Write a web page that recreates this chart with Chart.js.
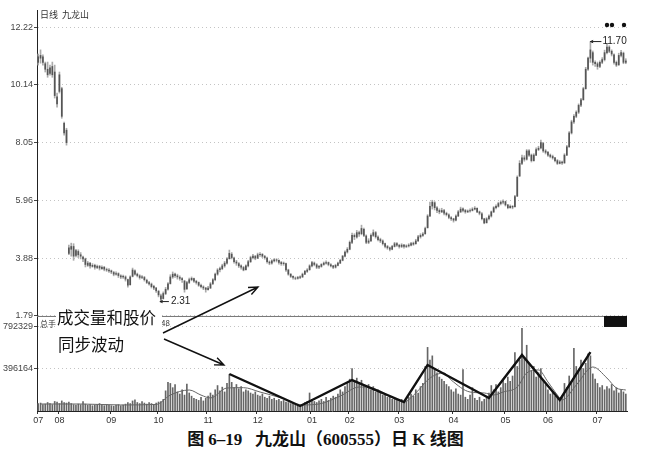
<!DOCTYPE html>
<html>
<head>
<meta charset="utf-8">
<script src="https://cdn.jsdelivr.net/npm/chart.js@4.4.0/dist/chart.umd.min.js"></script>
<style>
  html, body { margin: 0; padding: 0; background: #fff; }
  #wrap { position: relative; width: 651px; height: 456px; overflow: hidden; }
  #box { position: absolute; left: 0; top: 0; width: 651px; height: 428px; }
  #caption { position: absolute; left: 0; top: 430px; width: 651px; text-align: center;
    font: bold 17px "Liberation Serif", "Noto Sans CJK SC", serif; color: #111; line-height: 20px; }
</style>
</head>
<body>
<div id="wrap">
  <div id="box"><canvas id="kline"></canvas></div>
  <div id="caption">图 6–19&nbsp;&nbsp;&nbsp;九龙山（600555）日 K 线图</div>
</div>
<script>
// daily bars, July to July (index 13 on is after the share split)
var openP = [10.95,11.10,11.15,10.90,10.70,10.55,10.80,10.60,9.70,9.90,10.00,8.75,8.50,
  4.05,4.20,4.30,3.98,4.12,4.00,3.92,3.85,3.62,3.70,
  3.58,3.62,3.54,3.58,3.50,3.55,3.47,3.45,3.42,3.36,
  3.30,3.32,3.24,3.20,3.20,3.10,2.92,3.22,3.42,3.30,
  3.24,3.18,3.18,3.08,3.00,2.94,2.86,2.80,2.68,2.52,
  2.42,2.60,2.76,2.96,3.20,3.30,3.24,3.18,3.14,3.05,
  2.78,3.00,3.10,3.14,3.04,3.00,2.90,2.84,2.80,2.74,
  2.80,2.96,3.10,3.30,3.46,3.50,3.60,3.70,3.86,4.02,
  3.88,3.74,3.68,3.60,3.54,3.46,3.60,3.75,3.90,3.94,
  3.88,4.00,4.02,3.94,3.88,3.74,3.70,3.78,3.82,3.80,
  3.72,3.68,3.68,3.45,3.30,3.22,3.16,3.15,3.18,3.20,
  3.30,3.40,3.46,3.60,3.70,3.64,3.55,3.58,3.65,3.70,
  3.72,3.64,3.60,3.55,3.62,3.70,3.80,3.95,4.10,4.20,
  4.45,4.70,4.64,4.80,4.76,4.92,4.68,4.45,4.50,4.70,
  4.80,4.64,4.55,4.50,4.40,4.30,4.25,4.20,4.30,4.40,
  4.34,4.30,4.35,4.30,4.32,4.35,4.40,4.40,4.50,4.65,
  4.70,4.76,4.98,5.40,5.76,5.88,5.70,5.60,5.55,5.60,
  5.50,5.44,5.34,5.30,5.25,5.40,5.55,5.66,5.60,5.55,
  5.58,5.60,5.65,5.68,5.55,5.48,5.30,5.16,5.30,5.40,
  5.55,5.70,5.75,5.85,5.90,5.92,5.80,5.70,5.75,5.74,
  6.12,6.85,7.30,7.50,7.45,7.75,7.60,7.40,7.60,7.80,
  7.86,8.02,7.75,7.70,7.60,7.55,7.50,7.40,7.30,7.35,
  7.32,7.60,7.90,8.40,8.80,9.00,9.15,9.40,9.60,10.00,
  10.70,11.10,11.30,10.95,10.90,10.80,10.95,11.05,11.30,11.50,
  11.35,11.22,10.95,10.86,11.20,11.28,10.95];
var highP = [11.25,11.40,11.22,10.96,10.96,10.85,10.96,10.85,9.84,10.60,10.05,8.79,8.57,
  4.35,4.42,4.40,4.20,4.18,4.08,3.95,3.88,3.76,3.72,
  3.68,3.66,3.63,3.62,3.60,3.58,3.52,3.50,3.45,3.40,
  3.38,3.35,3.28,3.27,3.24,3.12,3.24,3.52,3.46,3.34,
  3.28,3.25,3.22,3.12,3.04,2.98,2.90,2.82,2.72,2.58,
  2.66,2.82,3.00,3.28,3.38,3.34,3.30,3.24,3.18,3.08,
  3.04,3.16,3.20,3.16,3.08,3.02,2.94,2.88,2.82,2.86,
  3.00,3.14,3.34,3.50,3.56,3.66,3.76,3.90,4.17,4.08,
  3.92,3.80,3.72,3.64,3.58,3.64,3.80,3.95,4.02,3.98,
  4.06,4.08,4.04,3.98,3.92,3.78,3.82,3.86,3.86,3.82,
  3.76,3.74,3.70,3.48,3.32,3.24,3.20,3.22,3.24,3.34,
  3.44,3.50,3.64,3.76,3.74,3.68,3.62,3.68,3.74,3.78,
  3.74,3.68,3.62,3.66,3.74,3.84,3.98,4.14,4.26,4.50,
  4.78,4.76,4.88,4.86,5.07,4.96,4.72,4.58,4.76,4.90,
  4.84,4.68,4.60,4.54,4.42,4.34,4.28,4.34,4.45,4.44,
  4.38,4.40,4.38,4.36,4.40,4.45,4.46,4.56,4.70,4.76,
  4.80,5.00,5.45,5.90,5.97,5.92,5.74,5.66,5.68,5.64,
  5.54,5.48,5.38,5.32,5.44,5.60,5.72,5.70,5.64,5.62,
  5.66,5.70,5.74,5.70,5.58,5.52,5.32,5.34,5.44,5.58,
  5.74,5.80,5.90,5.95,5.98,5.94,5.82,5.80,5.78,6.15,
  6.85,7.40,7.60,7.58,7.80,7.80,7.64,7.65,7.86,7.92,
  8.14,8.06,7.80,7.74,7.64,7.60,7.52,7.44,7.40,7.38,
  7.65,7.95,8.45,8.86,9.06,9.20,9.45,9.65,10.05,10.77,
  11.14,11.70,11.36,11.00,10.96,11.00,11.12,11.39,11.64,11.55,
  11.40,11.26,11.00,11.28,11.38,11.32,11.08];
var lowP = [10.85,10.92,10.85,10.60,10.41,10.49,10.41,9.66,9.33,9.84,8.93,8.32,7.96,
  4.00,3.95,3.80,3.92,3.90,3.85,3.75,3.56,3.58,3.52,
  3.55,3.48,3.50,3.45,3.47,3.42,3.40,3.36,3.32,3.24,
  3.26,3.18,3.14,3.15,3.05,2.83,2.90,3.20,3.26,3.20,
  3.12,3.14,3.05,2.96,2.90,2.80,2.74,2.64,2.48,2.31,
  2.40,2.56,2.72,2.94,3.15,3.18,3.12,3.08,3.00,2.65,
  2.74,2.96,3.06,3.00,2.94,2.86,2.80,2.74,2.65,2.72,
  2.78,2.92,3.06,3.26,3.38,3.46,3.55,3.66,3.84,3.85,
  3.70,3.62,3.54,3.48,3.42,3.44,3.56,3.72,3.85,3.82,
  3.86,3.94,3.90,3.84,3.70,3.64,3.66,3.74,3.74,3.66,
  3.62,3.62,3.40,3.26,3.18,3.12,3.10,3.12,3.14,3.18,
  3.28,3.36,3.44,3.56,3.60,3.50,3.50,3.55,3.62,3.66,
  3.60,3.56,3.50,3.52,3.60,3.68,3.78,3.92,4.06,4.18,
  4.40,4.55,4.60,4.66,4.72,4.65,4.40,4.40,4.48,4.66,
  4.60,4.50,4.44,4.35,4.25,4.20,4.14,4.18,4.28,4.30,
  4.24,4.26,4.24,4.26,4.28,4.32,4.34,4.38,4.48,4.60,
  4.66,4.74,4.96,5.38,5.65,5.62,5.52,5.48,5.52,5.44,
  5.40,5.30,5.24,5.18,5.22,5.38,5.52,5.55,5.50,5.52,
  5.54,5.58,5.62,5.52,5.44,5.26,5.12,5.14,5.26,5.36,
  5.52,5.66,5.72,5.80,5.84,5.76,5.66,5.68,5.66,5.72,
  6.10,6.82,7.25,7.38,7.42,7.55,7.35,7.38,7.58,7.76,
  7.82,7.70,7.64,7.55,7.50,7.45,7.35,7.26,7.28,7.26,
  7.30,7.58,7.88,8.36,8.74,8.95,9.10,9.35,9.58,9.98,
  10.66,10.95,10.85,10.80,10.70,10.76,10.90,11.00,11.25,11.30,
  11.18,10.88,10.80,10.84,11.15,10.90,10.90];
var closeP = [11.15,11.20,10.95,10.70,10.50,10.75,10.50,9.75,9.45,10.50,9.00,8.40,8.05,
  4.25,4.30,3.95,4.15,4.00,3.95,3.85,3.65,3.70,3.60,
  3.62,3.55,3.58,3.52,3.55,3.48,3.45,3.42,3.38,3.30,
  3.32,3.25,3.20,3.22,3.12,2.90,3.20,3.45,3.30,3.25,
  3.18,3.20,3.10,3.00,2.95,2.85,2.80,2.70,2.55,2.40,
  2.60,2.75,2.95,3.20,3.30,3.25,3.20,3.15,3.10,2.75,
  3.00,3.10,3.15,3.05,3.00,2.90,2.85,2.80,2.75,2.80,
  2.95,3.10,3.30,3.45,3.50,3.60,3.70,3.85,4.05,3.90,
  3.75,3.70,3.60,3.55,3.45,3.60,3.75,3.90,3.95,3.88,
  4.00,4.02,3.95,3.90,3.75,3.70,3.78,3.82,3.80,3.72,
  3.68,3.70,3.45,3.30,3.22,3.18,3.15,3.18,3.20,3.30,
  3.40,3.45,3.60,3.72,3.65,3.55,3.58,3.65,3.70,3.72,
  3.65,3.60,3.55,3.62,3.70,3.80,3.95,4.10,4.20,4.45,
  4.70,4.65,4.80,4.75,4.95,4.70,4.45,4.50,4.70,4.80,
  4.65,4.55,4.50,4.40,4.30,4.25,4.20,4.30,4.40,4.35,
  4.30,4.35,4.30,4.32,4.35,4.40,4.40,4.50,4.65,4.70,
  4.75,4.95,5.40,5.75,5.90,5.70,5.60,5.55,5.60,5.50,
  5.45,5.35,5.30,5.25,5.40,5.55,5.65,5.60,5.55,5.58,
  5.60,5.65,5.68,5.55,5.50,5.30,5.15,5.30,5.40,5.55,
  5.70,5.75,5.85,5.90,5.92,5.80,5.70,5.75,5.72,6.10,
  6.80,7.30,7.50,7.45,7.75,7.60,7.40,7.60,7.80,7.85,
  8.05,7.75,7.70,7.60,7.55,7.50,7.40,7.30,7.35,7.32,
  7.60,7.90,8.40,8.80,9.00,9.15,9.40,9.60,10.00,10.70,
  11.10,11.40,10.95,10.90,10.80,10.95,11.05,11.30,11.50,11.35,
  11.25,10.95,10.85,11.20,11.30,10.95,11.00];
var volume = [70000,75000,60000,65000,80000,70000,60000,90000,85000,70000,95000,80000,75000,
  85000,70000,60000,55000,65000,60000,90000,65000,55000,60000,
  50000,55000,60000,70000,55000,50000,60000,55000,50000,45000,
  55000,60000,50000,55000,65000,80000,70000,95000,105000,80000,
  70000,90000,75000,65000,80000,70000,60000,75000,85000,90000,
  110000,190000,270000,260000,220000,250000,180000,160000,200000,150000,
  255000,170000,140000,120000,110000,100000,130000,95000,120000,140000,
  170000,150000,200000,240000,190000,225000,180000,260000,345000,270000,
  220000,250000,210000,230000,180000,200000,190000,170000,160000,180000,
  150000,140000,160000,130000,120000,140000,110000,120000,100000,110000,
  90000,100000,85000,80000,70000,75000,60000,65000,55000,60000,
  80000,90000,170000,110000,90000,80000,95000,110000,90000,130000,
  100000,120000,140000,130000,160000,200000,180000,230000,260000,300000,
  400000,280000,310000,260000,290000,240000,220000,250000,200000,230000,
  180000,200000,170000,150000,160000,130000,140000,110000,120000,100000,
  90000,110000,80000,95000,130000,160000,140000,200000,170000,230000,
  260000,420000,600000,480000,520000,400000,360000,320000,300000,280000,
  250000,230000,200000,180000,210000,160000,150000,390000,130000,110000,
  150000,220000,120000,100000,130000,90000,110000,140000,170000,240000,
  200000,250000,180000,220000,300000,260000,320000,280000,330000,550000,
  420000,480000,780000,500000,620000,450000,380000,420000,320000,360000,
  400000,280000,250000,200000,160000,180000,140000,120000,100000,130000,
  260000,220000,330000,280000,590000,420000,380000,480000,400000,450000,
  540000,520000,350000,300000,260000,220000,240000,200000,230000,210000,
  250000,190000,220000,170000,200000,180000,160000];

// thin volume average at a few days
var maIdx = [1,18,35,50,56,64,69,73,80,87,94,103,111,119,128,136,142,152,155,160,166,172,175,183,189,193,197,203,207,212,216,220,222,228,235,241,245,249];
var maVol = [66000,66000,57000,62000,150000,198000,150000,123000,217000,220000,179000,123000,57000,66000,141000,226000,215000,104000,85000,170000,311000,358000,292000,179000,170000,151000,179000,226000,358000,387000,274000,151000,104000,245000,415000,311000,217000,198000];
// thick hand drawn swing line over the volume
var zigIdx = [81,111,133,155,165,191,205,221,234];
var zigVol = [349000,47000,292000,85000,434000,123000,528000,104000,556000];

var monthIdx = [0,9,31,51,72,93,116,132,153,176,198,216,237];
var monthLbl = ["07","08","09","10","11","12","01","02","03","04","05","06","07"];
var priceTicks = [1.79, 3.88, 5.96, 8.05, 10.14, 12.22];
var volTicks = [396164, 792329];

var days = closeP.map(function (c, i) { return String(i); });
var wicks = lowP.map(function (l, i) { return [l, highP[i]]; });
var bodies = openP.map(function (o, i) {
  var c = closeP[i];
  return o === c ? [o - 0.02, o + 0.02] : [Math.min(o, c), Math.max(o, c)];
});
var maPts = maIdx.map(function (d, i) { return {x: String(d), y: maVol[i]}; });
var zigPts = zigIdx.map(function (d, i) { return {x: String(d), y: zigVol[i]}; });

function arrow(ctx, x1, y1, x2, y2, len) {
  var a = Math.atan2(y2 - y1, x2 - x1);
  ctx.beginPath();
  ctx.moveTo(x1, y1); ctx.lineTo(x2, y2);
  ctx.moveTo(x2 - len * Math.cos(a - 0.4), y2 - len * Math.sin(a - 0.4));
  ctx.lineTo(x2, y2);
  ctx.lineTo(x2 - len * Math.cos(a + 0.4), y2 - len * Math.sin(a + 0.4));
  ctx.stroke();
}

var deco = {
  id: 'deco',
  afterDraw: function (chart) {
    var ctx = chart.ctx, xs = chart.scales.x, ys = chart.scales.y, vs = chart.scales.y2;
    var a = chart.chartArea;
    ctx.save();
    // line between price and volume panel
    ctx.strokeStyle = '#777'; ctx.lineWidth = 1;
    ctx.beginPath(); ctx.moveTo(a.left, vs.top + 0.5); ctx.lineTo(a.right, vs.top + 0.5); ctx.stroke();
    ctx.fillStyle = '#111';
    ctx.fillRect(a.right - 23, vs.top, 23, 11);

    ctx.fillStyle = '#333'; ctx.textBaseline = 'middle'; ctx.textAlign = 'left';
    ctx.font = '9px "Noto Sans CJK SC"';
    ctx.fillText('日线  九龙山', a.left + 3, 15);
    ctx.font = '8px "Noto Sans CJK SC"';
    ctx.fillText('总手', a.left + 3, vs.top + 8);
    ctx.fillText('48', 161, vs.top + 7);

    // low and high notes
    ctx.strokeStyle = '#222'; ctx.lineWidth = 1;
    ctx.font = '10px "Liberation Sans"'; ctx.fillStyle = '#222';
    var lx = xs.getPixelForValue(52), ly = ys.getPixelForValue(2.31);
    arrow(ctx, lx + 8, ly, lx - 1, ly, 3);
    ctx.fillText('2.31', lx + 10, ly);
    var hx = xs.getPixelForValue(234), hy = ys.getPixelForValue(11.70);
    arrow(ctx, hx + 11, hy, hx, hy, 3);
    ctx.fillText('11.70', hx + 12, hy);
    ctx.fillStyle = '#111';
    [607, 612, 624].forEach(function (px) {
      ctx.beginPath(); ctx.arc(px, 25, 2.2, 0, Math.PI * 2); ctx.fill();
    });

    // callout
    ctx.fillStyle = '#fff';
    ctx.fillRect(56, 308, 106, 20);
    ctx.fillStyle = '#111';
    ctx.font = '16.5px "Noto Sans CJK SC"';
    ctx.fillText('成交量和股价', 57, 318);
    ctx.fillText('同步波动', 58, 345);
    ctx.strokeStyle = '#111'; ctx.lineWidth = 1.4;
    arrow(ctx, 163, 333, 258, 287, 10);
    arrow(ctx, 164, 339, 224, 365, 10);
    ctx.restore();
  }
};

var tickFont = {family: 'Liberation Sans', size: 9};

new Chart(document.getElementById('kline'), {
  type: 'bar',
  data: {
    labels: days,
    datasets: [
      {type: 'line', data: zigPts, yAxisID: 'y2', borderColor: '#111', borderWidth: 2.4,
        pointRadius: 0, tension: 0, order: 0},
      {type: 'line', data: maPts, yAxisID: 'y2', borderColor: '#666', borderWidth: 1,
        pointRadius: 0, tension: 0.4, cubicInterpolationMode: 'monotone', order: 1},
      {data: bodies, yAxisID: 'y', backgroundColor: '#555', barThickness: 1, grouped: false, order: 2},
      {data: wicks, yAxisID: 'y', backgroundColor: '#aaa', barThickness: 1, grouped: false, order: 3},
      {data: volume, yAxisID: 'y2', backgroundColor: '#666', barThickness: 1, grouped: false, order: 4}
    ]
  },
  options: {
    responsive: true,
    maintainAspectRatio: false,
    animation: false,
    layout: {padding: {left: 0, right: 24, top: 10, bottom: 0}},
    plugins: {legend: {display: false}, tooltip: {enabled: false}},
    scales: {
      x: {
        type: 'category', offset: true,
        grid: {drawOnChartArea: false, tickLength: 3,
          color: function (c) { return monthIdx.indexOf(c.index) >= 0 ? '#333' : 'rgba(0,0,0,0)'; }},
        border: {color: '#222'},
        ticks: {autoSkip: false, maxRotation: 0, minRotation: 0, padding: 1, font: tickFont, color: '#333',
          callback: function (v, i) { var k = monthIdx.indexOf(i); return k >= 0 ? monthLbl[k] : ''; }},
        afterFit: function (s) { s.height = 17; }
      },
      y2: {
        type: 'linear', position: 'left', stack: 'k', stackWeight: 1,
        min: 0, max: 896000,
        afterBuildTicks: function (s) { s.ticks = volTicks.map(function (v) { return {value: v}; }); },
        grid: {color: '#c4c4c4', tickLength: 3, tickColor: '#444', tickBorderDash: []},
        border: {color: '#222', dash: [1, 3]},
        ticks: {font: tickFont, color: '#444', padding: 1,
          callback: function (v) { return String(v); }},
        afterFit: function (s) { s.width = 37; }
      },
      y: {
        type: 'linear', position: 'left', stack: 'k', stackWeight: 3.22,
        min: 1.79, max: 12.84,
        afterBuildTicks: function (s) { s.ticks = priceTicks.map(function (v) { return {value: v}; }); },
        grid: {color: '#c4c4c4', tickLength: 3, tickColor: '#444', tickBorderDash: []},
        border: {color: '#222', dash: [1, 3]},
        ticks: {font: tickFont, color: '#444', padding: 1,
          callback: function (v) { return v.toFixed(2); }},
        afterFit: function (s) { s.width = 37; }
      }
    }
  },
  plugins: [deco]
});
</script>
</body>
</html>
